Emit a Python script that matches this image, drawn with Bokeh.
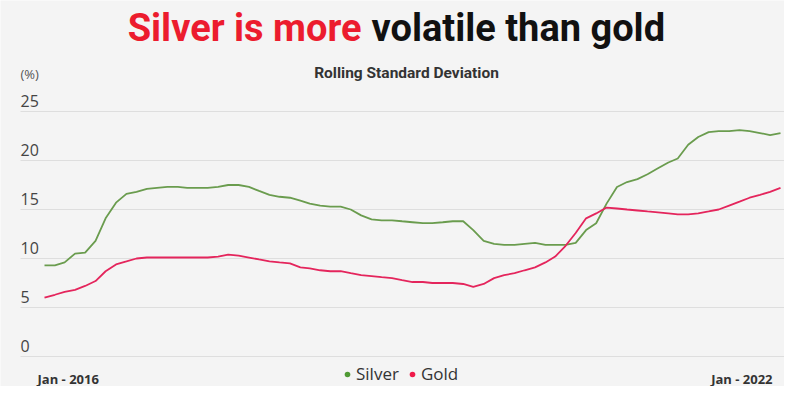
import pandas as pd
from bokeh.plotting import figure
from bokeh.models import Label, Legend, LegendItem, Range1d
from bokeh.core.properties import value
from bokeh.embed import file_html
from bokeh.resources import INLINE

# ---------------- data ----------------
months = pd.date_range("2016-01-01", "2022-01-01", freq="MS")
silver = [9.3, 9.3, 9.6, 10.5, 10.6, 11.8, 14.1, 15.7, 16.6, 16.8, 17.1, 17.2,
          17.3, 17.3, 17.2, 17.2, 17.2, 17.3, 17.5, 17.5, 17.3, 16.9, 16.5, 16.3,
          16.2, 15.9, 15.6, 15.4, 15.3, 15.3, 15.0, 14.4, 14.0, 13.9, 13.9, 13.8,
          13.7, 13.6, 13.6, 13.7, 13.8, 13.8, 12.9, 11.8, 11.5, 11.4, 11.4, 11.5,
          11.6, 11.4, 11.4, 11.4, 11.6, 12.9, 13.6, 15.6, 17.3, 17.8, 18.1, 18.6,
          19.2, 19.8, 20.2, 21.6, 22.4, 22.9, 23.0, 23.0, 23.1, 23.0, 22.8, 22.6,
          22.8]
gold = [6.0, 6.3, 6.6, 6.8, 7.2, 7.7, 8.7, 9.4, 9.7, 10.0, 10.1, 10.1,
        10.1, 10.1, 10.1, 10.1, 10.1, 10.2, 10.4, 10.3, 10.1, 9.9, 9.7, 9.6,
        9.5, 9.1, 9.0, 8.8, 8.7, 8.7, 8.5, 8.3, 8.2, 8.1, 8.0, 7.8,
        7.6, 7.6, 7.5, 7.5, 7.5, 7.4, 7.1, 7.4, 8.0, 8.3, 8.5, 8.8,
        9.1, 9.6, 10.2, 11.3, 12.6, 14.1, 14.6, 15.2, 15.1, 15.0, 14.9, 14.8,
        14.7, 14.6, 14.5, 14.5, 14.6, 14.8, 15.0, 15.4, 15.8, 16.2, 16.5, 16.8,
        17.2]
y_ticks = [0, 5, 10, 15, 20, 25]
y_tick_labels = ["0", "5", "10", "15", "20", "25"]
x_labels = ["Jan - 2016", "Jan - 2022"]
series_names = ["Silver", "Gold"]

# ---------------- layout ----------------
W, H = 784, 386
BG = "#f4f4f4"
SILVER_LINE = "#6a9c4e"
GOLD_LINE = "#e4255c"
SILVER_DOT = "#4f9a34"
GOLD_DOT = "#ef1a4a"

t0 = months[0].value / 1e6
t1 = months[-1].value / 1e6
ref_x0, ref_x1 = 44, 780
ppm = (ref_x1 - ref_x0) / (t1 - t0)
def xdata(rx):
    return t0 + (rx - ref_x0) / ppm

ref_y0, pxu = 356, 9.8
x_range = Range1d(xdata(0), xdata(W))
y_range = Range1d((ref_y0 - H) / pxu, ref_y0 / pxu)

p = figure(width=W, height=H, x_axis_type="datetime", x_range=x_range, y_range=y_range,
           output_backend="svg", toolbar_location=None,
           x_axis_location=None, y_axis_location=None, min_border=0)
p.background_fill_color = BG
p.border_fill_color = BG
p.outline_line_color = None
p.xgrid.visible = False
p.ygrid.visible = False

# gridlines
gx0 = xdata(20)
gx1 = xdata(W)
p.segment(x0=[gx0] * len(y_ticks), x1=[gx1] * len(y_ticks), y0=y_ticks, y1=y_ticks,
          line_color="#dedede", line_width=1)

# tick labels (above gridlines)
p.text(x=[gx0] * len(y_ticks), y=y_ticks, text=y_tick_labels, text_align="left",
       text_baseline="middle", y_offset=-11, text_font=value("Open Sans"),
       text_font_size="16px", text_color="#444444")

# lines
dates = [m.value / 1e6 for m in months]
p.line(dates, silver, line_color=SILVER_LINE, line_width=1.8)
p.line(dates, gold, line_color=GOLD_LINE, line_width=1.8)

def sy(ry):
    return H - ry

# title
TF = "Roboto"
p.add_layout(Label(x=361, y=sy(27), x_units="screen", y_units="screen",
                   text="Silver is more", text_align="right", text_baseline="middle",
                   text_font=TF, text_font_style="bold", text_font_size="38px",
                   text_color="#ec1c2e"))
p.add_layout(Label(x=371, y=sy(27), x_units="screen", y_units="screen",
                   text="volatile than gold", text_align="left", text_baseline="middle",
                   text_font=TF, text_font_style="bold", text_font_size="38px",
                   text_color="#111111"))
# subtitle
p.add_layout(Label(x=406, y=sy(72), x_units="screen", y_units="screen",
                   text="Rolling Standard Deviation", text_align="center",
                   text_baseline="middle", text_font=TF, text_font_style="bold",
                   text_font_size="15.5px", text_color="#333333"))
# unit
p.add_layout(Label(x=20, y=sy(73), x_units="screen", y_units="screen",
                   text="(%)", text_align="left", text_baseline="middle",
                   text_font="Open Sans", text_font_size="13px",
                   text_color="#555555"))
# x labels
p.add_layout(Label(x=37, y=sy(378), x_units="screen", y_units="screen",
                   text=x_labels[0], text_align="left", text_baseline="middle",
                   text_font="Open Sans", text_font_style="bold",
                   text_font_size="13px", text_color="#333333"))
p.add_layout(Label(x=772, y=sy(378), x_units="screen", y_units="screen",
                   text=x_labels[1], text_align="right", text_baseline="middle",
                   text_font="Open Sans", text_font_style="bold",
                   text_font_size="13px", text_color="#333333"))

# legend markers: renderers whose point lies outside the visible range
hidden_y = [y_range.start - 100]
r_s = p.scatter(x=[t0], y=hidden_y, marker="circle", size=11,
                fill_color=SILVER_DOT, line_color=None)
r_g = p.scatter(x=[t0], y=hidden_y, marker="circle", size=11,
                fill_color=GOLD_DOT, line_color=None)
legend = Legend(items=[LegendItem(label=series_names[0], renderers=[r_s]),
                       LegendItem(label=series_names[1], renderers=[r_g])],
                orientation="horizontal", location=(340, 1),
                background_fill_alpha=0, border_line_color=None,
                padding=0, margin=0, spacing=6, label_standoff=2,
                glyph_width=14, glyph_height=18, label_height=18,
                label_text_font="Open Sans", label_text_font_size="17px",
                label_text_color="#333333")
p.add_layout(legend, "center")

open("out.html", "w").write(file_html(p, INLINE))
